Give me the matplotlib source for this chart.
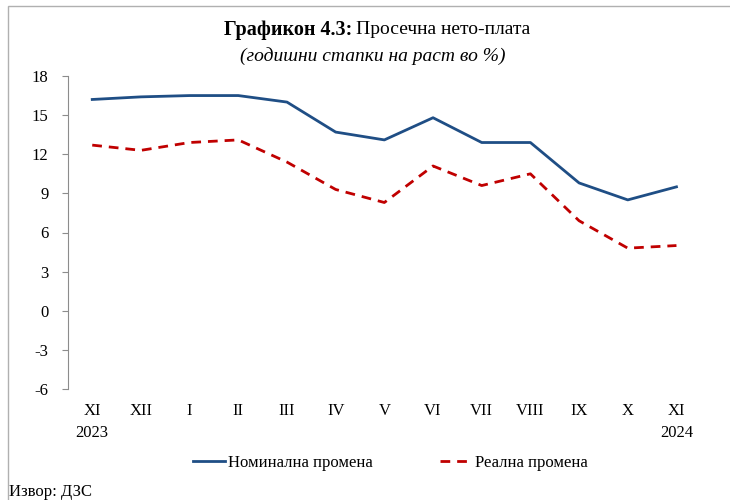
import matplotlib.pyplot as plt
from matplotlib.patches import Rectangle
import numpy as np

months = ["XI\n2023", "XII", "I", "II", "III", "IV", "V", "VI", "VII", "VIII", "IX", "X", "XI\n2024"]
nominal = [16.2, 16.4, 16.5, 16.5, 16.0, 13.7, 13.1, 14.8, 12.9, 12.9, 9.8, 8.5, 9.5]
real = [12.7, 12.3, 12.9, 13.1, 11.4, 9.3, 8.3, 11.1, 9.6, 10.5, 6.9, 4.8, 5.0]
yticks = [-6, -3, 0, 3, 6, 9, 12, 15, 18]

plt.rcParams['font.family'] = ['Liberation Serif', 'DejaVu Serif']

fig = plt.figure(figsize=(7.3, 5.0), dpi=100)
ax = fig.add_axes([0.093, 0.222, 0.867, 0.626])

# outer frame of the box
fig.patches.append(Rectangle((8 / 730, -0.1), 1.2, 1 - 6 / 500 + 0.1, transform=fig.transFigure,
                             fill=False, edgecolor='#b0b0b0', linewidth=1.0))

x = np.arange(len(months))
ax.plot(x, nominal, color='#1f4e85', linewidth=2.0, label='Номинална промена')
ax.plot(x, real, color='#c00000', linewidth=2.0, linestyle=(0, (3.5, 2.5)), label='Реална промена')

ax.set_xlim(-0.5, len(months) - 0.5)
ax.set_ylim(-6, 18)
ax.set_yticks(yticks)
ax.set_yticklabels([str(v) for v in yticks], fontsize=12)
ax.set_xticks(x)
ax.set_xticklabels(months, fontsize=12, linespacing=1.5, va='top')

for s in ['top', 'right', 'bottom']:
    ax.spines[s].set_visible(False)
ax.spines['left'].set_color('#8c8c8c')
ax.tick_params(axis='y', direction='out', length=4, color='#8c8c8c', pad=10)
ax.tick_params(axis='x', length=0, pad=10)

fig.text(0.482, 0.94, 'Графикон 4.3:', fontsize=14.5, fontweight='bold', ha='right', va='center')
fig.text(0.487, 0.94, 'Просечна нето-плата', fontsize=14, ha='left', va='center')
fig.text(0.51, 0.888, '(годишни стапки на раст во %)', fontsize=14, style='italic', ha='center', va='center')

fig.legend(loc='center', bbox_to_anchor=(0.535, 0.074), ncol=2, frameon=False, fontsize=12,
           handlelength=1.9, handletextpad=0.2, columnspacing=4.0)

fig.text(0.012, 0.015, 'Извор: ДЗС', fontsize=12, ha='left', va='center')

fig.savefig('out.png', dpi=100)
